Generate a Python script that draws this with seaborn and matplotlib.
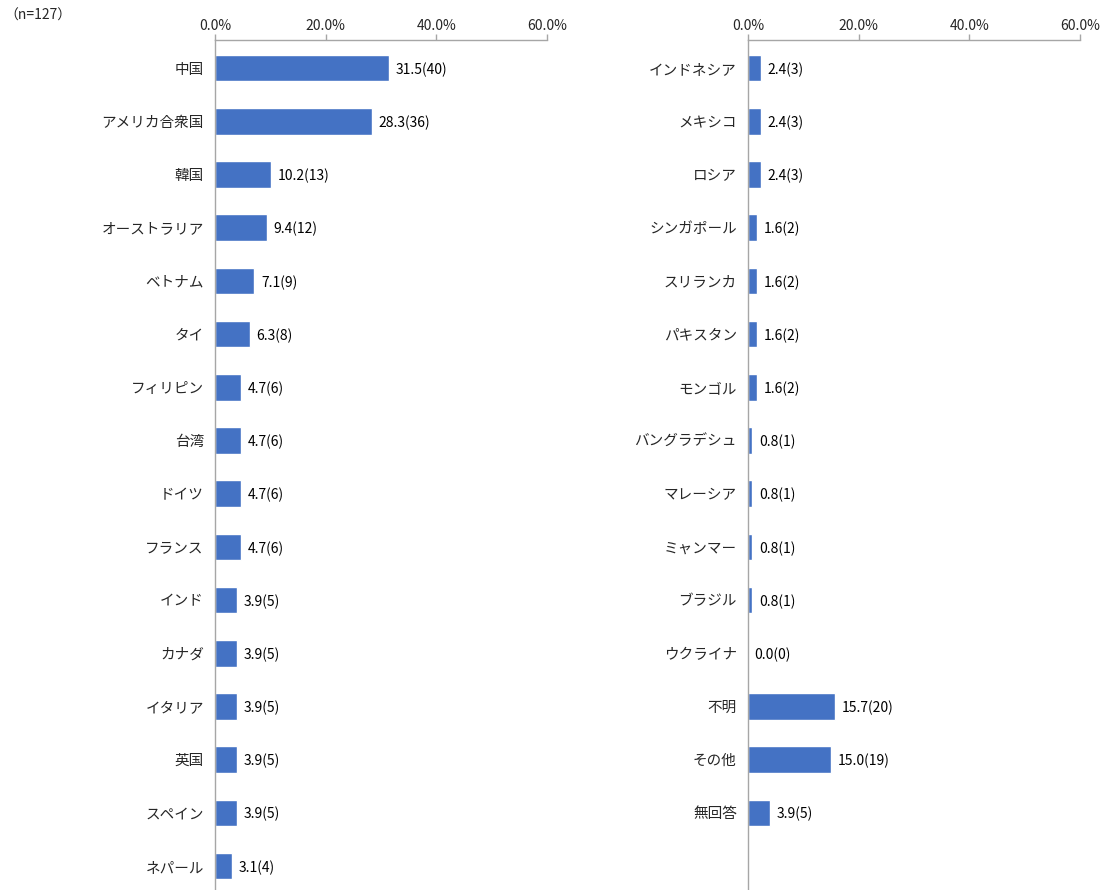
import pandas as pd
import matplotlib
matplotlib.use('Agg')
import matplotlib.pyplot as plt
import seaborn as sns
from matplotlib.ticker import FuncFormatter

left_countries = ['中国', 'アメリカ合衆国', '韓国', 'オーストラリア', 'ベトナム', 'タイ',
                  'フィリピン', '台湾', 'ドイツ', 'フランス', 'インド', 'カナダ',
                  'イタリア', '英国', 'スペイン', 'ネパール']
left_pct = [31.5, 28.3, 10.2, 9.4, 7.1, 6.3, 4.7, 4.7, 4.7, 4.7, 3.9, 3.9, 3.9, 3.9, 3.9, 3.1]
left_n = [40, 36, 13, 12, 9, 8, 6, 6, 6, 6, 5, 5, 5, 5, 5, 4]

right_countries = ['インドネシア', 'メキシコ', 'ロシア', 'シンガポール', 'スリランカ', 'パキスタン',
                   'モンゴル', 'バングラデシュ', 'マレーシア', 'ミャンマー', 'ブラジル',
                   'ウクライナ', '不明', 'その他', '無回答']
right_pct = [2.4, 2.4, 2.4, 1.6, 1.6, 1.6, 1.6, 0.8, 0.8, 0.8, 0.8, 0.0, 15.7, 15.0, 3.9]
right_n = [3, 3, 3, 2, 2, 2, 2, 1, 1, 1, 1, 0, 20, 19, 5]

x_ticks = [0, 20, 40, 60]
total_label = '（n=127）'

sns.set_theme(style='white')
plt.rcParams['font.family'] = ['Noto Sans CJK JP', 'DejaVu Sans']

BAR_COLOR = '#4472C4'
AXIS_COLOR = '#A6A6A6'


def draw_panel(ax, names, pct, counts):
    df = pd.DataFrame({'name': names, 'pct': pct, 'n': counts})
    sns.barplot(data=df, x='pct', y='name', orient='h', color=BAR_COLOR,
                width=0.5, saturation=1, ax=ax)
    for i, row in df.iterrows():
        ax.text(row['pct'] + 1.2, i, f"{row['pct']:.1f}({row['n']})",
                va='center_baseline', ha='left', fontsize=10, color='black')
    ax.set_xlim(0, 60)
    # 16 rows per panel, right panel leaves the last one empty
    ax.set_ylim(15.45, -0.53)
    ax.set_xticks(x_ticks)
    ax.xaxis.set_major_formatter(FuncFormatter(lambda v, p: f'{v:.1f}%'))
    ax.xaxis.tick_top()
    ax.tick_params(axis='x', which='major', direction='out', length=4, width=1,
                   color=AXIS_COLOR, labelsize=10, pad=1)
    ax.tick_params(axis='y', length=0, labelsize=10.5, pad=8)
    for lbl in ax.get_yticklabels():
        lbl.set_verticalalignment('center_baseline')
    ax.set_xlabel('')
    ax.set_ylabel('')
    for side in ['right', 'bottom']:
        ax.spines[side].set_visible(False)
    for side in ['top', 'left']:
        ax.spines[side].set_visible(True)
        ax.spines[side].set_color(AXIS_COLOR)
        ax.spines[side].set_linewidth(1)


fig = plt.figure(figsize=(11.05, 8.9), dpi=100)
ax1 = fig.add_axes([215 / 1105, 0, 332 / 1105, 850 / 890])
ax2 = fig.add_axes([748 / 1105, 0, 332 / 1105, 850 / 890])

draw_panel(ax1, left_countries, left_pct, left_n)
draw_panel(ax2, right_countries, right_pct, right_n)

fig.text(4 / 1105, 1 - 16 / 890, total_label, fontsize=10, va='center', ha='left')

fig.savefig('out.png', dpi=100)
